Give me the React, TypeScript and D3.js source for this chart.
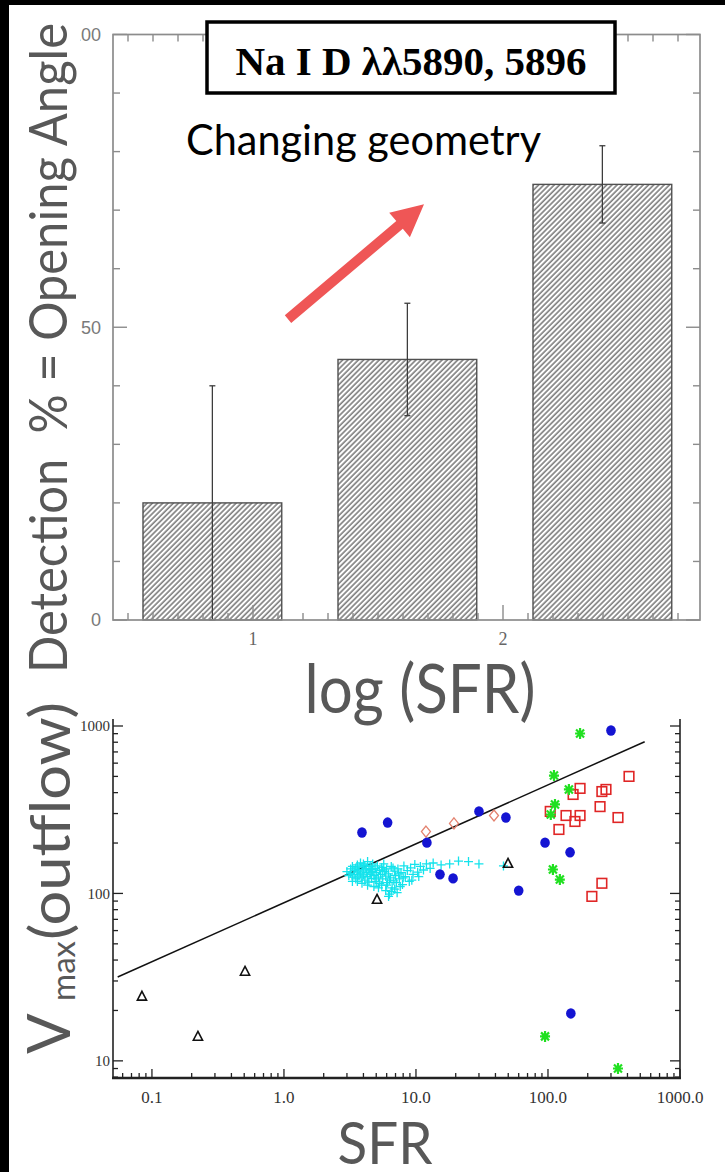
import React from 'react';
import * as d3 from 'd3';

// ---------- Top panel data (Na I D detection fraction vs log SFR) ----------
const binLeft = [0.56, 1.34, 2.12];
const binWidth = 0.555;
const detectionPct = [20, 44.5, 74.4];
const detectionErr = [20, 9.6, 6.6];
const topXLabels = [1, 2];
const topYLabels = [0, 50, 100];
const arrowFrom: [number, number] = [1.14, 51.4];
const arrowTo: [number, number] = [1.684, 71.0];

// ---------- Bottom panel data (Vmax outflow vs SFR) ----------
const trianglePts: [number, number][] = [[0.084, 24.3], [0.223, 14.0], [0.507, 34.2], [5.07, 92], [49.8, 151]];
const bluePts: [number, number][] = [[3.9, 231], [6.1, 265], [12.1, 201], [15.2, 130], [19.1, 123], [30, 309], [48, 284], [60, 104], [95, 201], [147, 176], [300, 940], [149, 19.2]];
const greenPts: [number, number][] = [[175, 902], [111, 506], [144, 418], [113, 340], [105, 296], [109, 139], [123, 121], [95, 14], [339, 9.0]];
const redPts: [number, number][] = [[411, 500], [275, 418], [256, 406], [175, 424], [155, 390], [248, 330], [339, 284], [104, 309], [137, 292], [175, 292], [160, 269], [121, 241], [256, 115], [215, 96]];
const diamondPts: [number, number][] = [[11.9, 234], [19.4, 262], [39, 292]];
const cyanPts: [number, number][] = [
  [3.0, 135], [3.1, 128], [3.2, 140], [3.2, 132], [3.3, 125], [3.3, 145], [3.4, 137], [3.4, 130], [3.5, 142], [3.5, 122],
  [3.6, 134], [3.6, 148], [3.7, 127], [3.7, 139], [3.8, 131], [3.8, 152], [3.9, 124], [3.9, 144], [4.0, 136], [4.0, 129],
  [4.1, 147], [4.1, 120], [4.2, 133], [4.2, 141], [4.3, 126], [4.3, 155], [4.4, 138], [4.5, 130], [4.5, 145], [4.6, 123],
  [4.7, 135], [4.7, 150], [4.8, 128], [4.9, 141], [5.0, 133], [5.0, 118], [5.1, 146], [5.2, 125], [5.3, 137], [5.4, 130],
  [5.5, 143], [5.5, 112], [5.6, 122], [5.8, 135], [5.9, 127], [6.0, 140], [6.1, 116], [6.2, 131], [6.4, 124], [6.5, 145],
  [6.6, 108], [6.8, 119], [6.9, 136], [7.0, 128], [7.2, 101], [7.3, 140], [7.5, 122], [7.7, 133], [7.9, 113], [8.1, 146],
  [8.3, 126], [8.6, 137], [8.9, 118], [9.1, 142], [9.5, 130], [9.8, 149], [10.3, 134], [10.8, 145], [11.4, 138], [12.0, 150],
  [12.8, 141], [13.5, 152], [15.5, 148], [18, 150], [21, 156], [25, 155], [30, 150], [46, 146], [5.2, 108], [5.9, 104],
  [6.3, 99], [6.5, 103], [7.6, 110], [4.3, 112], [4.8, 110], [3.6, 118], [4.0, 150], [5.7, 150], [6.7, 142], [3.9, 115],
  [4.4, 117], [5.3, 115], [6.0, 112], [7.1, 116], [8.0, 124], [9.3, 120], [10.5, 126], [4.9, 122], [6.3, 120], [3.3, 118],
  [5.6, 138], [4.6, 139], [7.4, 131], [6.9, 106], [6.2, 96]
];
const fitNorm = 88;
const fitSlope = 0.352;
const fitRange = [0.055, 540];
const sfrTicks = [0.1, 1, 10, 100, 1000];
const sfrTickLabels = ['0.1', '1.0', '10.0', '100.0', '1000.0'];
const vTicks = [10, 100, 1000];

const SANS = 'Lato, "Noto Sans", sans-serif';
const SERIF = '"Liberation Serif", "Times New Roman", serif';
const GREY = '#585858';

export default function App() {
  const topX = d3.scaleLinear().domain([0.44, 2.788]).range([113, 700]);
  const topY = d3.scaleLinear().domain([0, 100]).range([620, 34.5]);
  const sx = d3.scaleLog().domain([0.0507, 1000]).range([113, 680]);
  const sy = d3.scaleLog().domain([7.9, 1000]).range([1078, 726]);

  const axTop = topY(100), axBot = topY(0), axL = topX.range()[0], axR = topX.range()[1];
  const xMinor = d3.range(5, 28).map((d) => d / 10);
  const yMinor = d3.range(0, 101, 10);

  // arrow geometry
  const [ax0, ay0] = [topX(arrowFrom[0]), topY(arrowFrom[1])];
  const [ax1, ay1] = [topX(arrowTo[0]), topY(arrowTo[1])];
  const len = Math.hypot(ax1 - ax0, ay1 - ay0);
  const ux = (ax1 - ax0) / len, uy = (ay1 - ay0) / len;
  const nx = -uy, ny = ux;
  const hl = 32, hw = 16, sw = 5;
  const bx = ax1 - ux * hl, by = ay1 - uy * hl;
  const arrowPath = [
    [ax0 + nx * sw, ay0 + ny * sw], [bx + nx * sw, by + ny * sw], [bx + nx * hw, by + ny * hw], [ax1, ay1],
    [bx - nx * hw, by - ny * hw], [bx - nx * sw, by - ny * sw], [ax0 - nx * sw, ay0 - ny * sw]
  ].map((p, i) => (i ? 'L' : 'M') + p[0].toFixed(1) + ',' + p[1].toFixed(1)).join('') + 'Z';

  // log minor ticks
  const logTicks = (lo: number, hi: number) => {
    const out: { v: number; major: boolean }[] = [];
    for (let e = -3; e <= 4; e++) {
      for (let k = 1; k <= 9; k++) {
        const v = k * Math.pow(10, e);
        if (v >= lo * 0.999 && v <= hi * 1.001) out.push({ v, major: k === 1 });
      }
    }
    return out;
  };
  const sxTicks = logTicks(0.0507, 1000);
  const syTicks = logTicks(7.9, 1000);
  const sTopY = sy(1100);

  const fitLine = d3.line<number>().x((s) => sx(s)).y((s) => sy(fitNorm * Math.pow(s, fitSlope)));
  const fitSamples = [fitRange[0], fitRange[1]];

  return (
    <svg width={725} height={1172} style={{ position: 'absolute', left: 0, top: 0, display: 'block' }}>
      <defs>
        <pattern id="hatch" width="3.7" height="10" patternUnits="userSpaceOnUse" patternTransform="rotate(45)">
          <rect width="3.7" height="10" fill="#fff" />
          <line x1="1" y1="0" x2="1" y2="10" stroke="#4a4a4a" strokeWidth="1.15" />
        </pattern>
        <clipPath id="ylabclip">
          <rect x="80" y="0" width="40" height="700" />
        </clipPath>
      </defs>
      <rect width={725} height={1172} fill="#000" />
      <rect x={9} y={5} width={716} height={1167} fill="#fff" />

      {/* ---------------- top panel ---------------- */}
      <g>
        {binLeft.map((b, i) => (
          <rect key={'bar' + i} x={topX(b)} y={topY(detectionPct[i])} width={topX(b + binWidth) - topX(b)}
            height={topY(0) - topY(detectionPct[i])} fill="url(#hatch)" stroke="#505050" strokeWidth={1.4} />
        ))}
        {binLeft.map((b, i) => {
          const cx = topX(b + binWidth / 2);
          const y1 = topY(detectionPct[i] + detectionErr[i]);
          const y0 = topY(detectionPct[i] - detectionErr[i]);
          return (
            <g key={'err' + i} stroke="#3c3c3c" strokeWidth={1.3}>
              <line x1={cx} x2={cx} y1={y1} y2={y0} />
              <line x1={cx - 3} x2={cx + 3} y1={y1} y2={y1} />
              <line x1={cx - 3} x2={cx + 3} y1={y0} y2={y0} />
            </g>
          );
        })}
        {/* frame */}
        <rect x={axL} y={axTop} width={axR - axL} height={axBot - axTop} fill="none" stroke="#8c8c8c" strokeWidth={1.7} />
        {xMinor.map((v) => {
          const major = Math.abs(v - Math.round(v)) < 1e-6;
          const l = major ? 15 : 7;
          return (
            <g key={'xt' + v} stroke="#8c8c8c" strokeWidth={1.4}>
              <line x1={topX(v)} x2={topX(v)} y1={axBot} y2={axBot - l} />
              <line x1={topX(v)} x2={topX(v)} y1={axTop} y2={axTop + l} />
            </g>
          );
        })}
        {yMinor.map((v) => {
          const l = v % 50 === 0 ? 14 : 7;
          return (
            <g key={'yt' + v} stroke="#8c8c8c" strokeWidth={1.4}>
              <line x1={axL} x2={axL + l} y1={topY(v)} y2={topY(v)} />
              <line x1={axR} x2={axR - l} y1={topY(v)} y2={topY(v)} />
            </g>
          );
        })}
        <g clipPath="url(#ylabclip)">
          {topYLabels.map((v) => (
            <text key={'yl' + v} x={101} y={topY(v)} dy="0.36em" textAnchor="end" fontFamily='"Liberation Sans", Arial, sans-serif'
              fontSize={18} fill="#7a7a7a">{v}</text>
          ))}
        </g>
        {topXLabels.map((v) => (
          <text key={'xl' + v} x={topX(v)} y={645} textAnchor="middle" fontFamily={SERIF} fontSize={18} fill="#666">{v}</text>
        ))}

        {/* title box */}
        <rect x={207} y={22} width={408} height={71} fill="#fff" stroke="#000" strokeWidth={3.5} />
        <text x={411} y={75} textAnchor="middle" fontFamily={SERIF} fontWeight="bold" fontSize={41} fill="#000">Na I D λλ5890, 5896</text>

        <text x={186} y={155} fontFamily={SANS} fontSize={42} fill="#000" textLength={355} lengthAdjust="spacingAndGlyphs">Changing geometry</text>
        <path d={arrowPath} fill="#ef5656" />

        <text transform="translate(67,673) rotate(-90)" fontFamily={SANS} fontSize={52} fill={GREY}
          textLength={650} lengthAdjust="spacingAndGlyphs" style={{ whiteSpace: 'pre' }}>Detection  % = Opening Angle</text>
        <text x={420} y={713} textAnchor="middle" fontFamily={SANS} fontSize={68} fill={GREY}
          textLength={231} lengthAdjust="spacingAndGlyphs">log (SFR)</text>
      </g>

      {/* ---------------- bottom panel ---------------- */}
      <g>
        {/* fit line */}
        <path d={fitLine(fitSamples) || ''} fill="none" stroke="#111" strokeWidth={1.5} />

        {cyanPts.map(([s, v], i) => (
          <path key={'c' + i} transform={`translate(${sx(s)},${sy(v)})`} d="M-4.5,0H4.5M0,-4.5V4.5" stroke="#14e3ec" strokeWidth={1.3} fill="none" />
        ))}
        {diamondPts.map(([s, v], i) => (
          <path key={'d' + i} transform={`translate(${sx(s)},${sy(v)})`} d="M0,-5.5L4.5,0L0,5.5L-4.5,0Z" stroke="#e3826f" strokeWidth={1.3} fill="none" />
        ))}
        {redPts.map(([s, v], i) => (
          <rect key={'r' + i} x={sx(s) - 4.8} y={sy(v) - 4.8} width={9.6} height={9.6} stroke="#e02626" strokeWidth={1.6} fill="none" />
        ))}
        {bluePts.map(([s, v], i) => (
          <ellipse key={'b' + i} cx={sx(s)} cy={sy(v)} rx={4.8} ry={5.2} fill="#1414d2" />
        ))}
        {greenPts.map(([s, v], i) => (
          <path key={'g' + i} transform={`translate(${sx(s)},${sy(v)})`}
            d="M-5,0H5M0,-5.5V5.5M-4,-4L4,4M-4,4L4,-4" stroke="#20e020" strokeWidth={2.2} fill="none" />
        ))}
        {trianglePts.map(([s, v], i) => (
          <path key={'t' + i} transform={`translate(${sx(s)},${sy(v)})`} d="M0,-5L4.6,3.8L-4.6,3.8Z" stroke="#111" strokeWidth={1.6} fill="none" />
        ))}

        {/* axes */}
        <line x1={113} x2={113} y1={sTopY} y2={1078} stroke="#222" strokeWidth={1.6} />
        <line x1={680} x2={680} y1={sTopY} y2={1078} stroke="#222" strokeWidth={1.6} />
        <line x1={112} x2={681} y1={1078} y2={1078} stroke="#222" strokeWidth={2.4} />
        {syTicks.map((t, i) => {
          const l = t.major ? 10 : 5;
          return (
            <g key={'syt' + i} stroke="#222" strokeWidth={1.3}>
              <line x1={113} x2={113 + l} y1={sy(t.v)} y2={sy(t.v)} />
              <line x1={680} x2={680 - l} y1={sy(t.v)} y2={sy(t.v)} />
            </g>
          );
        })}
        {sxTicks.map((t, i) => {
          const l = t.major ? 9 : 5;
          return <line key={'sxt' + i} x1={sx(t.v)} x2={sx(t.v)} y1={1078} y2={1078 - l} stroke="#222" strokeWidth={1.3} />;
        })}
        {vTicks.map((v) => (
          <text key={'vl' + v} x={110} y={sy(v)} dy="0.35em" textAnchor="end" fontFamily={SERIF} fontSize={15} fill="#333">{v}</text>
        ))}
        {sfrTicks.map((v, i) => (
          <text key={'sl' + v} x={sx(v)} y={1103} textAnchor="middle" fontFamily={SERIF} fontSize={17} fill="#333">{sfrTickLabels[i]}</text>
        ))}

        <text x={385} y={1164} textAnchor="middle" fontFamily={SANS} fontSize={58} fill={GREY}
          textLength={95} lengthAdjust="spacingAndGlyphs">SFR</text>
        <text transform="translate(70,1054) rotate(-90)" fontFamily={SANS} fontSize={60} fill={GREY}>V</text>
        <text transform="translate(75,1001) rotate(-90)" fontFamily={SANS} fontSize={33} fill={GREY}>max</text>
        <text transform="translate(70,940) rotate(-90)" fontFamily={SANS} fontSize={56} fill={GREY}
          textLength={238} lengthAdjust="spacingAndGlyphs">(outflow)</text>
      </g>
    </svg>
  );
}
